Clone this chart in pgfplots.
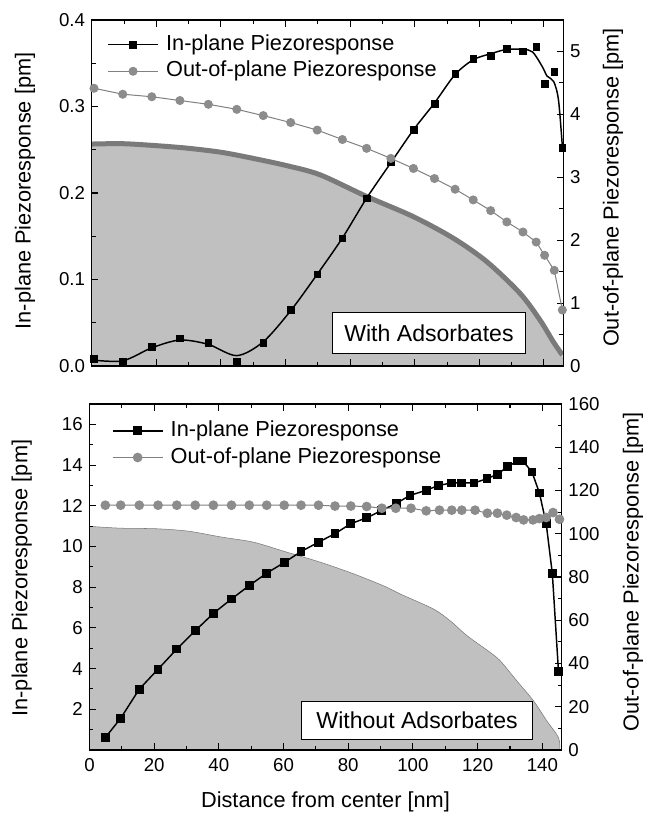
\documentclass[border=0pt]{standalone}
\usepackage{fontspec}
\setmainfont{Liberation Sans}
\usepackage{pgfplots}
\pgfplotsset{compat=1.18}
\definecolor{areagray}{RGB}{192,192,192}
\definecolor{edgegray}{RGB}{122,122,122}
\definecolor{circgray}{RGB}{140,140,140}
\definecolor{linegray}{RGB}{128,128,128}
\pgfplotsset{
  base/.style={
    scale only axis, height=259.5pt,
    xmin=0, xmax=146,
    tick align=inside,
    major tick length=5pt, minor tick length=3pt,
    axis line style={line width=0.8pt},
    every tick/.style={line width=0.8pt, black},
    tick label style={font=\fontsize{14}{17}\selectfont},
    label style={font=\fontsize{16.3}{19}\selectfont},
    xticklabel style={yshift=-3pt},
    /pgf/number format/assume math mode=true,
  },
  leftax/.style={yticklabel style={xshift=-1.5pt}},
  rightax/.style={yticklabel style={xshift=1.5pt}},
  legstyle/.style={
    legend style={anchor=north west,
      draw=none, fill=none, font=\fontsize{16.3}{19}\selectfont,
      row sep=4.5pt, inner sep=0pt,
      nodes={inner sep=0pt, text height=12pt, text depth=3.5pt}},
    legend cell align=left,
    legend image code/.code={\draw[mark repeat=2,mark phase=2] plot coordinates {(0pt,0pt)(18.75pt,0pt)(37.5pt,0pt)};
      \path (43pt,0pt);},
  },
}
\begin{document}
\begin{tikzpicture}
\useasboundingbox (0,0) rectangle (488.25pt,611.25pt);
% ===== Top panel, left axis =====
\begin{axis}[base, leftax, width=353.7pt, at={(68.8pt,336.75pt)}, anchor=south west,
  ymin=0, ymax=0.4, ytick={0,0.1,...,0.4}, minor y tick num=1,
  xtick={0,20,...,140}, minor x tick num=1, xticklabels={},
  ytick pos=left, xtick pos=both, axis on top,
  yticklabel style={/pgf/number format/fixed, /pgf/number format/fixed zerofill, /pgf/number format/precision=1},
  ylabel={In-plane Piezoresponse [pm]},
  ylabel style={at={(axis description cs:-0.1414,0.506)}, anchor=center}]
\addplot[fill=areagray, draw=none, smooth] coordinates {
 (0,0.2566)(9.6,0.257)(20.1,0.2547)(29.9,0.2517)(40.2,0.247)(50,0.240)(60.4,0.2316)(70.7,0.221)
 (85.1,0.196)(99.6,0.1726)(112,0.1476)(122.3,0.1206)(132.6,0.084)(138.8,0.053)(142.9,0.028)(145.7,0.0127)(146,0)} \closedcycle;
\addplot[edgegray, line width=3.75pt, smooth] coordinates {
 (0,0.2566)(9.6,0.257)(20.1,0.2547)(29.9,0.2517)(40.2,0.247)(50,0.240)(60.4,0.2316)(70.7,0.221)
 (85.1,0.196)(99.6,0.1726)(112,0.1476)(122.3,0.1206)(132.6,0.084)(138.8,0.053)(142.9,0.028)(145.7,0.0127)};
\addplot[black, line width=1.1pt, smooth] coordinates {
 (0,0.007)(9.6,0.006)(18.6,0.021)(27.3,0.030)(36.1,0.025)(44.9,0.012)(53.1,0.028)(61.6,0.064)
 (69.8,0.106)(77.6,0.148)(85.1,0.194)(92.6,0.235)(99.6,0.273)(106.1,0.304)(112.5,0.337)(118.1,0.354)
 (123.5,0.361)(128.5,0.366)(133.5,0.366)(136.5,0.363)(139.5,0.346)(141,0.335)(143,0.329)(144.5,0.3075)(145.7,0.2535)};
\addplot[only marks, mark=square*, mark size=2.5pt, black] coordinates {
 (0.7,0.008)(9.6,0.0055)(18.6,0.022)(27.3,0.032)(36.1,0.027)(44.9,0.0055)(53.1,0.027)(61.6,0.065)
 (69.8,0.106)(77.6,0.1476)(85.1,0.194)(92.6,0.2355)(99.6,0.273)(106.1,0.303)(112.5,0.3376)(118.1,0.355)
 (123.5,0.359)(128.5,0.367)(133.5,0.364)(137.6,0.369)(140.2,0.326)(143.2,0.340)(145.7,0.252)};
\node[draw=black, fill=white, line width=0.6pt, minimum width=145pt, minimum height=30.5pt,
  font=\fontsize{17.3}{20}\selectfont] at (axis cs:104.4,0.038) {With Adsorbates};
\end{axis}
% ===== Top panel, right axis =====
\begin{axis}[base, rightax, legstyle, width=353.7pt, at={(68.8pt,336.75pt)}, anchor=south west,
  axis y line*=right, axis x line=none,
  ymin=0, ymax=5.5, ytick={0,1,...,5}, minor y tick num=1,
  legend style={at={(axis description cs:0.0325,0.9595)}},
  ylabel={Out-of-plane Piezoresponse [pm]},
  ylabel style={at={(axis description cs:1.1054,0.516)}, anchor=center}]
\addlegendimage{black, line width=1.1pt, mark=square*, mark size=2.5pt}
\addlegendentry{In-plane Piezoresponse}
\addplot[linegray, line width=0.75pt, mark=*, mark size=3pt, mark options={fill=circgray, draw=circgray}] coordinates {
 (0.7,4.415)(9.6,4.32)(18.6,4.28)(27.3,4.22)(36.1,4.16)(44.9,4.08)(53.1,3.98)(61.6,3.87)(69.8,3.75)
 (77.6,3.60)(85.1,3.46)(92.6,3.30)(99.6,3.14)(106.1,2.98)(112.5,2.81)(118.1,2.64)(123.5,2.47)
 (128.5,2.29)(133.5,2.13)(137.6,1.97)(140.2,1.76)(143.2,1.52)(145.7,0.89)};
\addlegendentry{Out-of-plane Piezoresponse}
\end{axis}
% ===== Bottom panel, left axis =====
\begin{axis}[base, leftax, width=354.2pt, at={(67.1pt,48.75pt)}, anchor=south west,
  ymin=0, ymax=17, ytick={2,4,...,16}, minor ytick={1,3,...,17},
  xtick={0,20,...,140}, minor x tick num=1,
  ytick pos=left, xtick pos=both, axis on top,
  ylabel={In-plane Piezoresponse [pm]},
  ylabel style={at={(axis description cs:-0.1436,0.497)}, anchor=center},
  xlabel={Distance from center [nm]},
  xlabel style={at={(axis description cs:0.4998,-0.1495)}, anchor=center}]
\addplot[fill=areagray, draw=edgegray, line width=0.4pt, smooth] coordinates {
 (0,10.99)(9.4,10.9)(20.8,10.87)(30.6,10.75)(40.9,10.46)(50.7,10.21)(61,9.72)(71.3,9.23)
 (81.6,8.66)(91.9,8.0)(96,7.67)(106.3,6.93)(111.5,6.35)(116.7,5.62)(123.4,4.85)(127,4.38)
 (132.1,3.40)(137.3,2.41)(141.4,1.43)(145,0.61)(145.4,0)} \closedcycle;
\addplot[black, line width=1.1pt, mark=square*, mark size=2.75pt] coordinates {
 (4.9,0.61)(9.65,1.56)(15.4,2.99)(21.2,3.97)(27.0,4.96)(32.7,5.86)(38.3,6.71)(43.9,7.42)(49.4,8.08)
 (54.8,8.69)(60.2,9.21)(65.4,9.75)(70.8,10.21)(75.9,10.63)(80.8,11.12)(85.7,11.41)(90.4,11.77)
 (95.0,12.13)(99.1,12.51)(104.1,12.76)(107.9,13.0)(112.0,13.12)(115.1,13.12)(118.9,13.12)
 (122.9,13.33)(126.1,13.55)(129.2,13.91)(132.3,14.2)(134.0,14.2)(136.8,13.66)(139.1,12.63)
 (141.2,11.12)(143.1,8.66)(145.0,3.86)};
\node[draw=black, fill=white, line width=0.6pt, minimum width=173pt, minimum height=28.7pt,
  font=\fontsize{17.3}{20}\selectfont] at (axis cs:101.3,1.47) {Without Adsorbates};
\end{axis}
% ===== Bottom panel, right axis =====
\begin{axis}[base, rightax, legstyle, width=354.2pt, at={(67.1pt,48.75pt)}, anchor=south west,
  axis y line*=right, axis x line=none,
  ymin=0, ymax=160, ytick={0,20,...,160}, minor y tick num=1,
  legend style={at={(axis description cs:0.047,0.953)}},
  ylabel={Out-of-plane Piezoresponse [pm]},
  ylabel style={at={(axis description cs:1.151,0.515)}, anchor=center}]
\addlegendimage{black, line width=1.1pt, mark=square*, mark size=2.75pt}
\addlegendentry{In-plane Piezoresponse}
\addplot[linegray, line width=0.75pt, mark=*, mark size=3.25pt, mark options={fill=circgray, draw=circgray}] coordinates {
 (4.9,113.2)(9.65,113.2)(15.4,113.2)(21.2,113.2)(27.0,113.2)(32.7,113.2)(38.3,113.2)(43.9,113.2)
 (49.4,113.2)(54.8,113.2)(60.2,113.2)(65.4,113.2)(70.8,113.2)(75.9,112.8)(80.8,112.8)(85.7,112.6)
 (90.4,111.8)(94.7,111.8)(99.4,111.8)(104.1,110.6)(108.2,110.9)(112.0,110.9)(115.1,110.9)(119.2,110.9)
 (123.0,109.5)(126.1,109.5)(129.0,108.6)(131.9,107.5)(134.2,106.4)(137.1,106.4)(139.1,107.0)
 (141.2,107.5)(143.3,109.8)(145.3,106.7)};
\addlegendentry{Out-of-plane Piezoresponse}
\end{axis}
\end{tikzpicture}
\end{document}
